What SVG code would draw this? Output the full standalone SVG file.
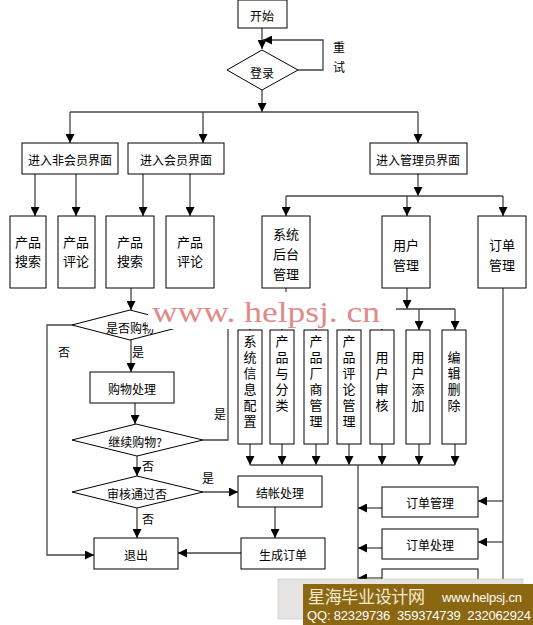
<svg xmlns="http://www.w3.org/2000/svg" width="533" height="625" viewBox="0 0 533 625">
<style>
.b{fill:#fff;stroke:#000;stroke-width:1}
.t{font-family:"Noto Sans CJK SC","Noto Sans",sans-serif;font-size:12px;fill:#000;text-anchor:middle;dominant-baseline:central}
.v{font-family:"Noto Sans CJK SC","Noto Sans",sans-serif;font-size:13px;fill:#000;text-anchor:middle;dominant-baseline:central}
.vt{font-family:"Noto Sans CJK SC","Noto Sans",sans-serif;font-size:13px;fill:#000;writing-mode:vertical-rl;letter-spacing:3px}
.l{font-family:"Noto Sans CJK SC","Noto Sans",sans-serif;font-size:12px;fill:#000;dominant-baseline:central}
.c{fill:none;stroke:#444;stroke-width:1.3}
.a{marker-end:url(#ah)}
</style>
<defs>
<marker id="ah" markerUnits="userSpaceOnUse" markerWidth="9" markerHeight="9" viewBox="0 0 10 10" refX="10" refY="5" orient="auto">
<path d="M0,0 L10,5 L0,10 z" fill="#000"/>
</marker>
</defs>
<rect width="533" height="625" fill="#fff"/>
<g id="connectors">
<path class="c a" d="M262,28 V49"/>
<path class="c a" d="M298,70 H323 V40 H263"/>
<path class="c a" d="M262,90 V112"/>
<path class="c" d="M70,112 H418"/>
<path class="c a" d="M70,112 V143"/>
<path class="c a" d="M203,112 V143"/>
<path class="c a" d="M418,112 V143"/>
<path class="c a" d="M35,174 V216"/>
<path class="c a" d="M76,174 V216"/>
<path class="c a" d="M143,174 V216"/>
<path class="c a" d="M190,174 V216"/>
<path class="c a" d="M418,174 V196"/>
<path class="c" d="M286,196 H503"/>
<path class="c a" d="M286,196 V216"/>
<path class="c a" d="M407,196 V216"/>
<path class="c a" d="M503,196 V216"/>
<path class="c a" d="M131,288 V310"/>
<path class="c" d="M286,288 V309"/>
<path class="c a" d="M407,288 V309"/>
<path class="c" d="M250,309 H455"/>
<path class="c a" d="M250,309 V330"/>
<path class="c a" d="M282,309 V330"/>
<path class="c a" d="M316,309 V330"/>
<path class="c a" d="M349,309 V330"/>
<path class="c a" d="M382,309 V330"/>
<path class="c a" d="M419,309 V330"/>
<path class="c a" d="M455,309 V330"/>
<path class="c a" d="M250,444 V465"/>
<path class="c a" d="M282,444 V465"/>
<path class="c a" d="M316,444 V465"/>
<path class="c a" d="M349,444 V465"/>
<path class="c a" d="M382,444 V465"/>
<path class="c a" d="M419,444 V465"/>
<path class="c a" d="M455,444 V465"/>
<path class="c" d="M250,465 H455"/>
<path class="c" d="M358,465 V600"/>
<path class="c" d="M503,288 V600"/>
<path class="c a" d="M503,501 H478"/>
<path class="c a" d="M503,542 H478"/>
<path class="c a" d="M503,583 H478"/>
<path class="c a" d="M382,508 H358"/>
<path class="c a" d="M382,548 H358"/>
<path class="c a" d="M382,578 H358"/>
<path class="c a" d="M131,340 V372"/>
<path class="c a" d="M135,403 V424"/>
<path class="c a" d="M137,456 V476"/>
<path class="c a" d="M137,508 V538"/>
<path class="c a" d="M72,325 H47 V555 H94"/>
<path class="c" d="M203,440 H228 V325"/>
<path class="c a" d="M203,492 H238"/>
<path class="c a" d="M275,507 V538"/>
<path class="c a" d="M241,553 H178"/>
</g>
<g id="n-start"><rect class="b" x="238" y="0" width="49" height="28"/><text class="t" x="262" y="15">开始</text></g>
<g id="n-login"><polygon class="b" points="262,50 298,70 262,90 227,70"/><text class="t" x="262" y="72">登录</text></g>
<g id="n-retry-label"><text class="l" x="333" y="46">重</text><text class="l" x="333" y="66">试</text></g>
<g id="n-guest"><rect class="b" x="22" y="143" width="96" height="31"/><text class="t" x="70" y="159">进入非会员界面</text></g>
<g id="n-member"><rect class="b" x="128" y="143" width="96" height="31"/><text class="t" x="176" y="159">进入会员界面</text></g>
<g id="n-admin"><rect class="b" x="370" y="143" width="97" height="31"/><text class="t" x="418" y="159">进入管理员界面</text></g>
<g id="n-search1"><rect class="b" x="10" y="216" width="36" height="72"/><text class="v" x="28" y="241">产品</text><text class="v" x="28" y="260">搜索</text></g>
<g id="n-review1"><rect class="b" x="58" y="216" width="37" height="72"/><text class="v" x="76" y="241">产品</text><text class="v" x="76" y="260">评论</text></g>
<g id="n-search2"><rect class="b" x="106" y="216" width="48" height="72"/><text class="v" x="130" y="241">产品</text><text class="v" x="130" y="260">搜索</text></g>
<g id="n-review2"><rect class="b" x="166" y="216" width="48" height="72"/><text class="v" x="190" y="241">产品</text><text class="v" x="190" y="260">评论</text></g>
<g id="n-sys"><rect class="b" x="262" y="216" width="48" height="72"/><text class="v" x="286" y="233">系统</text><text class="v" x="286" y="253">后台</text><text class="v" x="286" y="273">管理</text></g>
<g id="n-user"><rect class="b" x="382" y="216" width="48" height="72"/><text class="v" x="406" y="244">用户</text><text class="v" x="406" y="264">管理</text></g>
<g id="n-order"><rect class="b" x="478" y="216" width="48" height="72"/><text class="v" x="502" y="244">订单</text><text class="v" x="502" y="264">管理</text></g>
<g id="n-buyq"><polygon class="b" points="130,310 188,325 130,340 72,325"/><text class="t" x="130" y="327">是否购物</text></g>
<g id="n-cfg"><rect class="b" x="238" y="330" width="24" height="114"/><text class="vt" x="250" y="335">系统信息配置</text></g>
<g id="n-cat"><rect class="b" x="270" y="330" width="24" height="114"/><text class="vt" x="282" y="335">产品与分类</text></g>
<g id="n-vendor"><rect class="b" x="304" y="330" width="24" height="114"/><text class="vt" x="316" y="335">产品厂商管理</text></g>
<g id="n-revmgr"><rect class="b" x="337" y="330" width="24" height="114"/><text class="vt" x="349" y="335">产品评论管理</text></g>
<g id="n-audit"><rect class="b" x="370" y="330" width="24" height="114"/><text class="vt" x="382" y="351">用户审核</text></g>
<g id="n-useradd"><rect class="b" x="406" y="330" width="24" height="114"/><text class="vt" x="418" y="351">用户添加</text></g>
<g id="n-edit"><rect class="b" x="442" y="330" width="24" height="114"/><text class="vt" x="454" y="351">编辑删除</text></g>
<g id="n-shop"><rect class="b" x="90" y="372" width="84" height="31"/><text class="t" x="132" y="388">购物处理</text></g>
<g id="n-continue"><polygon class="b" points="136,424 203,440 137,456 72,440"/><text class="t" x="135" y="441">继续购物?</text></g>
<g id="n-check"><polygon class="b" points="137,476 203,492 137,508 72,492"/><text class="t" x="137" y="493">审核通过否</text></g>
<g id="n-checkout"><rect class="b" x="238" y="476" width="84" height="31"/><text class="t" x="280" y="492">结帐处理</text></g>
<g id="n-exit"><rect class="b" x="94" y="538" width="84" height="31"/><text class="t" x="136" y="554">退出</text></g>
<g id="n-genorder"><rect class="b" x="241" y="538" width="84" height="31"/><text class="t" x="283" y="554">生成订单</text></g>
<g id="n-ordmgr"><rect class="b" x="382" y="487" width="96" height="30"/><text class="t" x="430" y="502">订单管理</text></g>
<g id="n-ordproc"><rect class="b" x="382" y="529" width="96" height="30"/><text class="t" x="430" y="544">订单处理</text></g>
<g id="n-ord3"><rect class="b" x="382" y="569" width="96" height="30"/></g>
<g id="labels">
<text class="l" x="132" y="351">是</text>
<text class="l" x="58" y="351">否</text>
<text class="l" x="214" y="413">是</text>
<text class="l" x="142" y="465">否</text>
<text class="l" x="202" y="477">是</text>
<text class="l" x="142" y="518">否</text>
</g>
<g id="watermark">
<rect x="148" y="292" width="248" height="37" fill="#fff"/>
<text x="152" y="322" font-family="Liberation Serif,serif" font-size="30" fill="#e08a8a" textLength="228" lengthAdjust="spacingAndGlyphs">www. helpsj. cn</text>
<rect x="278" y="579" width="245" height="40" fill="#e6e3e3" stroke="#bbb" stroke-width="0.5"/>
<rect x="303" y="584" width="230" height="41" fill="#8c6711"/>
<text x="308" y="603" font-family="Noto Sans CJK SC,sans-serif" font-size="17" fill="#f6ecd6" textLength="117">星海毕业设计网</text>
<text x="442" y="602" font-family="Liberation Sans,sans-serif" font-size="13" fill="#fff" textLength="80">www.helpsj.cn</text>
<text x="307" y="620" font-family="Liberation Sans,sans-serif" font-size="13" fill="#fff" textLength="224" xml:space="preserve">QQ: 82329736  359374739  232062924</text>
</g>
</svg>
